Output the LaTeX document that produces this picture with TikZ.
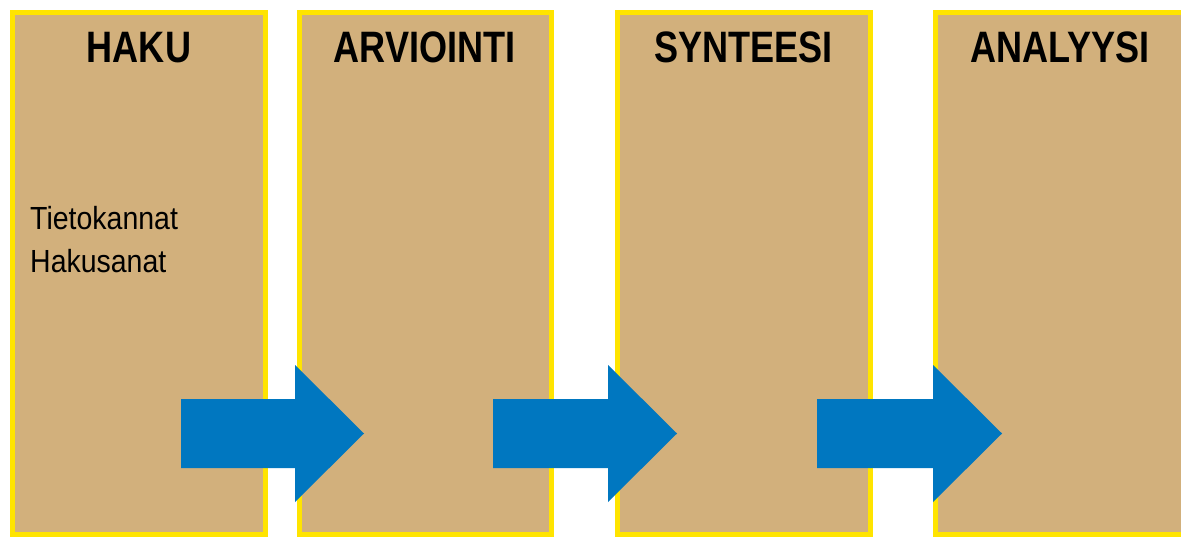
\documentclass[tikz,border=0pt]{standalone}
\usepackage{fontspec}
\setmainfont{Liberation Sans}
\newfontfamily\titlefont[FakeStretch=0.82]{Liberation Sans Bold}
\newfontfamily\bodyfont[FakeStretch=0.89]{Liberation Sans}
\definecolor{tan}{HTML}{D2B07C}
\definecolor{boxyellow}{HTML}{FFE400}
\definecolor{arrowblue}{HTML}{0077C0}
\tikzset{
  stagebox/.style={fill=tan, draw=boxyellow, line width=5pt},
  stagetitle/.style={anchor=base, inner sep=0pt, font=\titlefont\fontsize{44}{44}\selectfont},
  bodytext/.style={anchor=base west, inner sep=0pt, align=left, font=\bodyfont\fontsize{32}{42.7}\selectfont},
  flowarrow/.style={fill=arrowblue, draw=none}
}
\begin{document}
\begin{tikzpicture}[x=1pt,y=-1pt]
\useasboundingbox (0,0) rectangle (1181,537);
\clip (0,0) rectangle (1181,537);
\fill[white] (0,0) rectangle (1181,537);
% boxes
\draw[stagebox] (12.5,12.5) rectangle (265.5,534.5);
\draw[stagebox] (299.5,12.5) rectangle (551.5,534.5);
\draw[stagebox] (617.5,12.5) rectangle (870.5,534.5);
\draw[stagebox] (935.5,12.5) rectangle (1210,534.5);
% titles
\node[stagetitle] (t1) at (139,63) {HAKU};
\node[stagetitle] (t2) at (424.5,63) {ARVIOINTI};
\node[stagetitle] (t3) at (743.5,63) {SYNTEESI};
\node[stagetitle] (t4) at (1060,63) {ANALYYSI};
% body text
\node[bodytext] (b1) at (30,272.7) {Tietokannat\\Hakusanat};
% arrows
\fill[flowarrow] (181,399) -- (295,399) -- (295,365) -- (364,433.5) -- (295,502) -- (295,468) -- (181,468) -- cycle;
\fill[flowarrow] (493,399) -- (608,399) -- (608,365) -- (677,433.5) -- (608,502) -- (608,468) -- (493,468) -- cycle;
\fill[flowarrow] (817,399) -- (933,399) -- (933,365) -- (1002,433.5) -- (933,502) -- (933,468) -- (817,468) -- cycle;
\end{tikzpicture}
\end{document}
